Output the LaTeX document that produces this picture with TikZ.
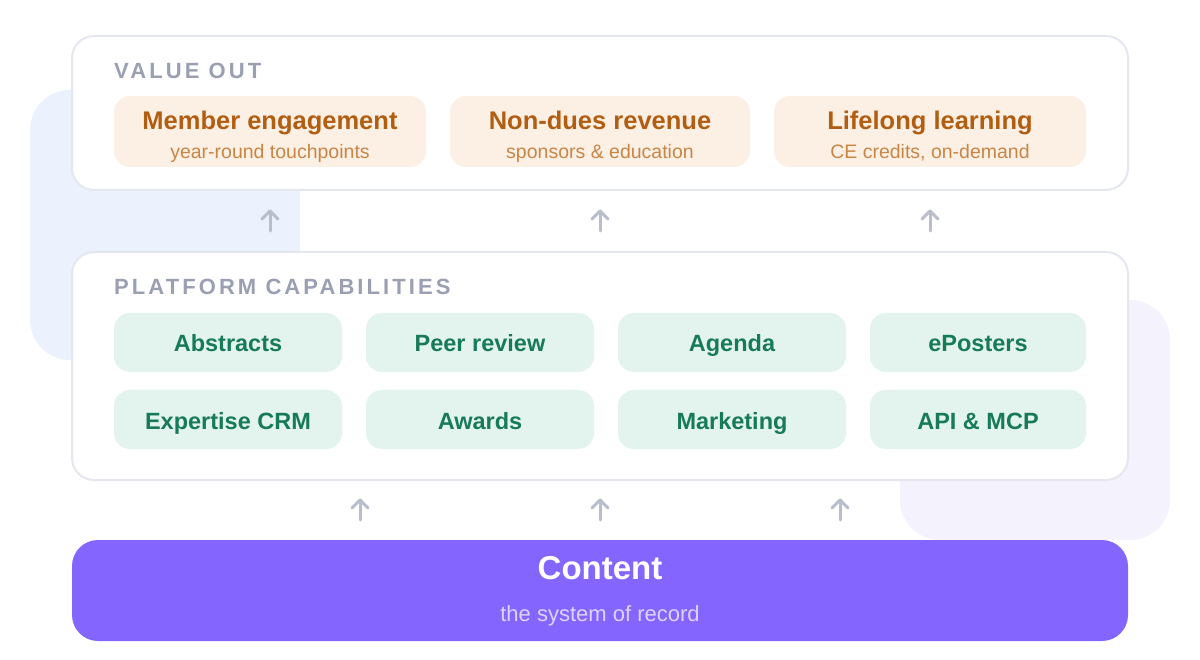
\documentclass[tikz,border=0pt]{standalone}
\usepackage{fontspec}
\setmainfont{Liberation Sans}
\usetikzlibrary{positioning,calc}
\definecolor{blobblue}{HTML}{EBF1FD}
\definecolor{bloblav}{HTML}{F4F2FD}
\definecolor{panelline}{HTML}{E5E7EE}
\definecolor{headgray}{HTML}{9AA0B2}
\definecolor{valfill}{HTML}{FCF0E4}
\definecolor{valtext}{HTML}{B25E12}
\definecolor{valsub}{HTML}{C98546}
\definecolor{capfill}{HTML}{E3F4EE}
\definecolor{captext}{HTML}{177A58}
\definecolor{arrowgray}{HTML}{B9BDCC}
\definecolor{contentfill}{HTML}{8466FF}
\definecolor{contentsub}{HTML}{DCD3FF}
\tikzset{
  panel/.style={draw=panelline, line width=2pt, fill=white, rounded corners=22pt},
  valbox/.style={fill=valfill, rounded corners=16pt},
  capbox/.style={fill=capfill, rounded corners=16pt},
  txt/.style={text height=0.72em, text depth=0em, inner sep=0pt, yshift=-5pt},
  head/.style={txt, anchor=west, text=headgray, font=\bfseries\fontsize{22}{24}\selectfont\addfontfeatures{LetterSpace=14}},
  valtitle/.style={txt, text=valtext, font=\bfseries\fontsize{25.5}{27}\selectfont},
  valsubt/.style={txt, text=valsub, font=\fontsize{19.5}{21}\selectfont},
  captitle/.style={txt, text=captext, font=\bfseries\fontsize{23.5}{25}\selectfont},
  uparrow/.style={draw=arrowgray, line width=3pt, line cap=round, line join=round}
}
\newcommand{\uparr}[3]{%
  \coordinate (#1b) at (#2,#3);
  \coordinate (#1t) at (#2,#3-20);
  \draw[uparrow] (#1b) -- (#1t);
  \draw[uparrow] ($(#1t)+(-8,8)$) -- (#1t) -- ($(#1t)+(8,8)$);}
\begin{document}
\begin{tikzpicture}[x=1pt,y=-1pt]
  \useasboundingbox (0,0) rectangle (1200,660);
  % background blobs
  \fill[blobblue, rounded corners=40pt] (30,90) rectangle (300,360);
  \fill[bloblav, rounded corners=40pt] (900,300) rectangle (1170,540);
  % value out
  \draw[panel] (72,36) rectangle (1128,190);
  \node[head] (valhead) at (114,70) {VALUE OUT};
  \fill[valbox] (114,96) rectangle (426,167);
  \fill[valbox] (450,96) rectangle (750,167);
  \fill[valbox] (774,96) rectangle (1086,167);
  \node[valtitle] (engage) at (270,121) {Member engagement};
  \node[valsubt] (engagesub) at (270,150) {year-round touchpoints};
  \node[valtitle] (revenue) at (600,121) {Non-dues revenue};
  \node[valsubt] (revenuesub) at (600,150) {sponsors \& education};
  \node[valtitle] (learning) at (930,121) {Lifelong learning};
  \node[valsubt] (learningsub) at (930,150) {CE credits, on-demand};
  % arrows to value
  \uparr{a1}{270}{231}
  \uparr{a2}{600}{231}
  \uparr{a3}{930}{231}
  % platform capabilities
  \draw[panel] (72,252) rectangle (1128,480);
  \node[head] (capshead) at (114,286) {PLATFORM CAPABILITIES};
  \foreach \xa/\xb/\ta/\tb in {114/342/Abstracts/Expertise CRM, 366/594/Peer review/Awards,
      618/846/Agenda/Marketing, 870/1086/ePosters/API \& MCP} {
    \fill[capbox] (\xa,313) rectangle (\xb,372);
    \fill[capbox] (\xa,390) rectangle (\xb,449);
    \node[captitle] at ({(\xa+\xb)/2},343) {\ta};
    \node[captitle] at ({(\xa+\xb)/2},421) {\tb};
  }
  % arrows to capabilities
  \uparr{b1}{360}{520}
  \uparr{b2}{600}{520}
  \uparr{b3}{840}{520}
  % content
  \fill[contentfill, rounded corners=26pt] (72,540) rectangle (1128,641);
  \node[txt, text=white, font=\bfseries\fontsize{33}{35}\selectfont] (content) at (600,571) {Content};
  \node[txt, text=contentsub, font=\fontsize{22}{24}\selectfont] (contentsub) at (600,613) {the system of record};
\end{tikzpicture}
\end{document}
